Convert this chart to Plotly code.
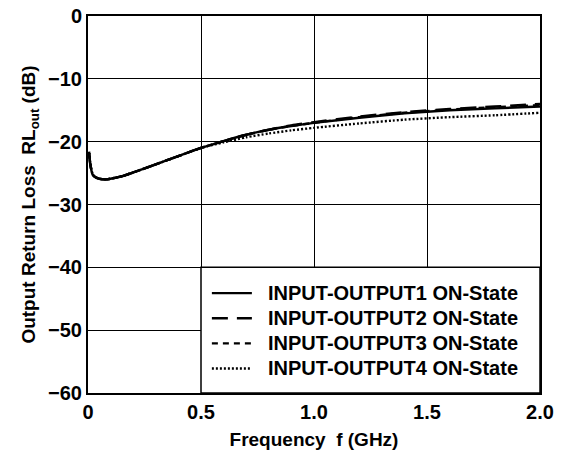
import plotly.graph_objects as go

freq_ghz = [0.005, 0.01, 0.02, 0.03, 0.05, 0.08, 0.1, 0.15, 0.2, 0.3, 0.4, 0.5,
            0.6, 0.7, 0.8, 0.9, 1.0, 1.2, 1.4, 1.6, 1.8, 2.0]
rl_out1 = [-21.8, -23.6, -25.2, -25.6, -25.9, -26.0, -25.9, -25.5, -24.9, -23.6, -22.3, -21.0,
           -19.9, -18.9, -18.1, -17.5, -17.0, -16.2, -15.5, -15.0, -14.7, -14.4]
rl_out2 = [-21.8, -23.6, -25.2, -25.6, -25.9, -26.0, -25.9, -25.5, -24.9, -23.6, -22.3, -21.0,
           -19.9, -18.9, -18.1, -17.4, -16.9, -16.0, -15.3, -14.8, -14.4, -14.0]
rl_out3 = [-21.8, -23.6, -25.2, -25.6, -25.9, -26.0, -25.9, -25.5, -24.9, -23.6, -22.3, -21.0,
           -19.9, -18.9, -18.1, -17.5, -17.0, -16.1, -15.4, -14.9, -14.5, -14.2]
rl_out4 = [-21.6, -23.4, -25.1, -25.6, -25.9, -26.0, -25.9, -25.5, -24.9, -23.6, -22.3, -21.0,
           -20.1, -19.3, -18.7, -18.2, -17.8, -17.1, -16.5, -16.1, -15.8, -15.4]

series_names = ["INPUT-OUTPUT1 ON-State", "INPUT-OUTPUT2 ON-State",
                "INPUT-OUTPUT3 ON-State", "INPUT-OUTPUT4 ON-State"]
series_values = [rl_out1, rl_out2, rl_out3, rl_out4]
dashes = ["solid", "16px,9px", "6px,5px", "2px,2px"]

x_tickvals = [0, 0.5, 1.0, 1.5, 2.0]
x_ticktext = ["<b>0</b>", "<b>0.5</b>", "<b>1.0</b>", "<b>1.5</b>", "<b>2.0</b>"]
y_tickvals = [0, -10, -20, -30, -40, -50, -60]
y_ticktext = ["<b>0</b>", "<b>\u221210</b>", "<b>\u221220</b>", "<b>\u221230</b>",
              "<b>\u221240</b>", "<b>\u221250</b>", "<b>\u221260</b>"]

FONT = "Liberation Sans, Arial, Helvetica, sans-serif"

fig = go.Figure()
for name, vals, dash in zip(series_names, series_values, dashes):
    fig.add_trace(go.Scatter(
        x=freq_ghz, y=vals, mode="lines",
        name=f'<span style="font-size:20px">\u00a0\u00a0<b>{name}</b></span>',
        line=dict(color="black", width=2.4, dash=dash, shape="spline", smoothing=0.6),
    ))

# legend box covering the lower-right grid cells
fig.add_shape(type="rect", xref="x", yref="y", x0=0.5, x1=2.0, y0=-60, y1=-40,
              fillcolor="white", line=dict(color="black", width=1.5), layer="above")

fig.update_layout(
    width=564, height=473,
    margin=dict(l=80, r=32, t=8, b=88, autoexpand=False),
    paper_bgcolor="white", plot_bgcolor="white",
    font=dict(family=FONT, color="black", size=18),
    showlegend=True,
    legend=dict(x=0.263, y=0.017, xanchor="left", yanchor="bottom",
                bgcolor="rgba(0,0,0,0)", borderwidth=0, itemwidth=40,
                font=dict(family=FONT, size=17, color="black")),
    xaxis=dict(range=[0, 2.0], tickvals=x_tickvals, ticktext=x_ticktext,
               showgrid=True, gridcolor="black", gridwidth=1,
               showline=True, linecolor="black", linewidth=2, mirror=True,
               ticks="", tickfont=dict(size=20), zeroline=False, automargin=False,
               ticklabeloverflow="allow",
               title=dict(text="<b>Frequency  f (GHz)</b>", font=dict(size=19), standoff=11)),
    yaxis=dict(range=[-60, 0], tickvals=y_tickvals, ticktext=y_ticktext,
               showgrid=True, gridcolor="black", gridwidth=1,
               showline=True, linecolor="black", linewidth=2, mirror=True,
               ticks="", tickfont=dict(size=20), zeroline=False, automargin=False,
               ticklabeloverflow="allow",
               title=dict(text="<b>Output Return Loss  RL<sub>out</sub> (dB)</b>", font=dict(size=19), standoff=7)),
)

fig.write_html("out.html")
